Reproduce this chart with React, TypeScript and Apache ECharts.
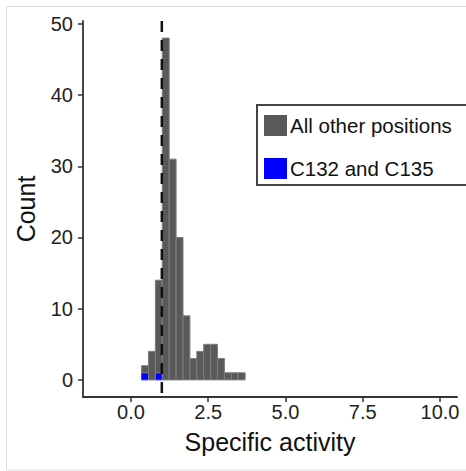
import React, { useEffect, useRef } from "react";
import * as echarts from "echarts";

// Histogram bins (lower edge of each bin) and bin width, in "Specific activity" units
const binStarts = [0.345, 0.568, 0.792, 1.015, 1.238, 1.462, 1.685, 1.909, 2.132, 2.355, 2.579, 2.802, 3.026, 3.249, 3.472];
const binWidth = 0.2234;
// Counts per bin
const targetCounts = [1, 0, 1, 0, 0, 0, 0, 0, 0, 0, 0, 0, 0, 0, 0]; // C132 and C135
const otherCounts = [1, 4, 13, 48, 31, 20, 9, 3, 4, 5, 5, 3, 1, 1, 1]; // All other positions
const refLine = 1;
const xTicks = [0, 2.5, 5, 7.5, 10];
const yTicks = [0, 10, 20, 30, 40, 50];
const xRange = [-1.55, 10.55];
const yRange = [-2.4, 50.4];
const seriesNames = ["All other positions", "C132 and C135"];

const FONT = "'Liberation Sans', Arial, Helvetica, sans-serif";

export default function App() {
  const ref = useRef<HTMLDivElement>(null);
  useEffect(() => {
    if (!ref.current) return;
    const chart = echarts.init(ref.current, undefined, { renderer: "svg" });

    const blueData = binStarts.map((s, i) => [s, s + binWidth, targetCounts[i], 0]).filter((d) => d[2] > 0);
    const grayData = binStarts.map((s, i) => [s, s + binWidth, otherCounts[i], targetCounts[i]]);

    const makeRender = (fill: string, stroke: string) => (params: any, api: any) => {
      const s = api.value(0);
      const e = api.value(1);
      const h = api.value(2);
      const b = api.value(3);
      const p0 = api.coord([s, b]);
      const p1 = api.coord([e, b + h]);
      return {
        type: "rect",
        shape: { x: p0[0], y: p1[1], width: p1[0] - p0[0], height: p0[1] - p1[1] },
        style: { fill, stroke, lineWidth: 1 },
      };
    };

    chart.setOption({
      animation: false,
      backgroundColor: "#fff",
      grid: { left: 83, top: 21, width: 374, height: 376, containLabel: false },
      xAxis: {
        type: "value",
        min: xRange[0],
        max: xRange[1],
        name: "Specific activity",
        nameLocation: "middle",
        nameGap: 32,
        nameTextStyle: { fontSize: 25, color: "#111", fontFamily: FONT },
        axisLine: { show: true, onZero: false, lineStyle: { color: "#333", width: 1.8 } },
        axisTick: { show: true, customValues: xTicks, length: 5, lineStyle: { color: "#333", width: 1.5 } },
        axisLabel: {
          customValues: xTicks,
          formatter: (v: number) => v.toFixed(1),
          fontSize: 20,
          color: "#222",
          fontFamily: FONT,
          margin: 5,
        },
        splitLine: { show: false },
      },
      yAxis: {
        type: "value",
        min: yRange[0],
        max: yRange[1],
        name: "Count",
        nameLocation: "middle",
        nameRotate: 90,
        nameGap: 45,
        nameTextStyle: { fontSize: 25, color: "#111", fontFamily: FONT },
        axisLine: { show: true, onZero: false, lineStyle: { color: "#333", width: 1.8 } },
        axisTick: { show: true, customValues: yTicks, length: 5, lineStyle: { color: "#333", width: 1.5 } },
        axisLabel: {
          customValues: yTicks,
          fontSize: 20,
          color: "#222",
          fontFamily: FONT,
          margin: 10,
        },
        splitLine: { show: false },
      },
      legend: {
        data: seriesNames,
        orient: "vertical",
        left: 257,
        top: 105,
        icon: "rect",
        itemWidth: 23,
        itemHeight: 21,
        itemGap: 22,
        padding: [10, 4, 6, 7],
        borderWidth: 0,
        textStyle: { fontSize: 20.5, color: "#111", fontFamily: FONT, padding: [0, 0, 0, -2] },
        selectedMode: false,
        z: 6,
      },
      graphic: [
        {
          type: "polyline",
          shape: { points: [[480, 6.5], [6.5, 6.5], [6.5, 470], [480, 470]] },
          style: { fill: "none", stroke: "#dcdcdc", lineWidth: 1 },
          silent: true,
          z: -10,
        },
        {
          type: "polyline",
          shape: { points: [[480, 105], [257, 105], [257, 185], [480, 185]] },
          style: { fill: "none", stroke: "#444", lineWidth: 2 },
          silent: true,
          z: 3,
        },
      ],
      series: [
        {
          name: seriesNames[1],
          type: "custom",
          itemStyle: { color: "#0000ff" },
          renderItem: makeRender("#0000ff", "#3a3aff"),
          encode: { x: [0, 1], y: [2, 3] },
          data: blueData,
          z: 2,
        },
        {
          name: seriesNames[0],
          type: "custom",
          itemStyle: { color: "#595959" },
          renderItem: makeRender("#595959", "#7d7d7d"),
          encode: { x: [0, 1], y: [2, 3] },
          data: grayData,
          z: 2,
        },
        {
          name: "ref",
          type: "line",
          symbol: "none",
          silent: true,
          lineStyle: { color: "#111", width: 2.5, type: [11, 8] },
          data: [
            [refLine, yRange[1]],
            [refLine, yRange[0]],
          ],
          z: 5,
        },
      ],
    });
    return () => chart.dispose();
  }, []);
  return (
    <div
      ref={ref}
      style={{ position: "absolute", left: 0, top: 0, width: 466, height: 471 }}
    />
  );
}
